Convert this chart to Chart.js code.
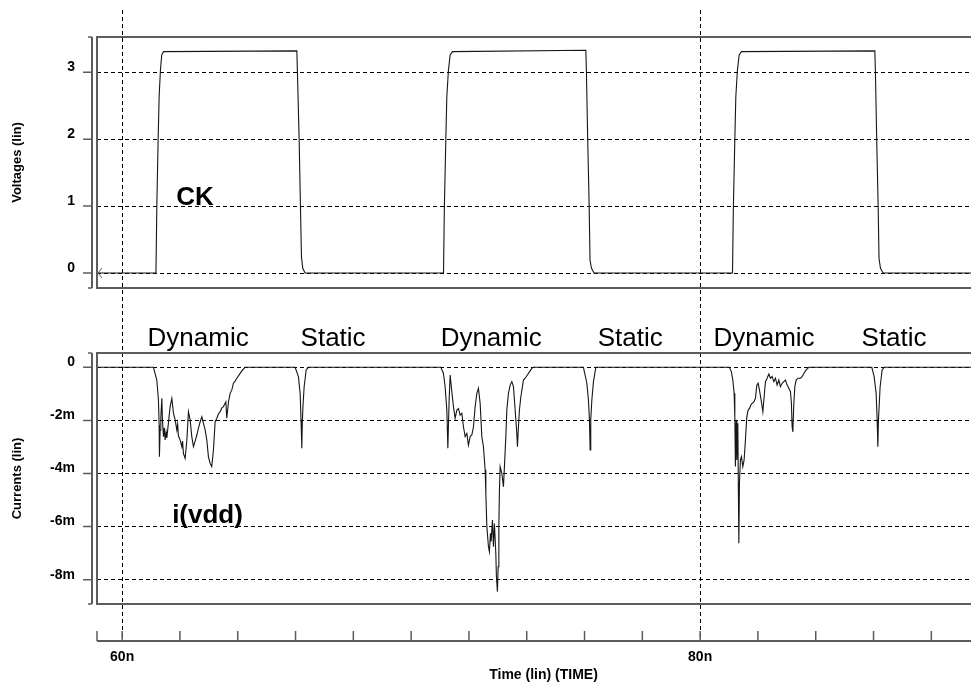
<!DOCTYPE html>
<html>
<head>
<meta charset="utf-8">
<title>CK / i(vdd) transient</title>
<script src="https://cdn.jsdelivr.net/npm/chart.js@4.4.1/dist/chart.umd.min.js"></script>
<style>
  html, body { margin: 0; padding: 0; background: #fff; overflow: hidden; }
  canvas { display: block; }
</style>
</head>
<body>
<canvas id="wave" width="990" height="684"></canvas>
<script>
// =======================================================
// Transient view: clock CK (top) and supply current i(vdd) (bottom)
// =======================================================

// time window (ns)
const X_MIN = 59.13;
const X_MAX = 90.03;
const timeLabelTicks = [60, 80];

// voltage panel (V)
const V_MIN = -0.224;
const V_MAX = 3.528;
const voltLabelTicks = [0, 1, 2, 3];

// current panel (mA)
const I_MIN = -8.915;
const I_MAX = 0.539;
const currentLabelTicks = [0, -2, -4, -6, -8];

// CK waveform
const ckTimeNs = [
  59.13, 61.17, 61.20, 61.245, 61.28, 61.325, 61.37, 61.43,
  66.045, 66.066, 66.125, 66.17, 66.205, 66.25, 66.33,
  71.12, 71.15, 71.20, 71.235, 71.29, 71.35, 71.43,
  76.045, 76.066, 76.11, 76.16, 76.19, 76.24, 76.33,
  81.12, 81.15, 81.20, 81.235, 81.29, 81.35, 81.43,
  86.045, 86.066, 86.11, 86.16, 86.19, 86.24, 86.33,
  90.03,
];
const ckVolts = [
  0, 0, 0.99, 1.99, 2.64, 3.03, 3.26, 3.31,
  3.32, 2.99, 1.99, 1.0, 0.24, 0.07, 0,
  0, 0.99, 1.99, 2.64, 3.03, 3.26, 3.31,
  3.33, 2.99, 1.99, 1.0, 0.19, 0.07, 0,
  0, 0.99, 1.99, 2.64, 3.03, 3.26, 3.31,
  3.32, 2.99, 1.99, 1.0, 0.22, 0.07, 0,
  0,
];

// i(vdd) waveform, one block per switching event
const iDyn1Ns = [
  59.13, 61.083, 61.20, 61.256, 61.28, 61.29, 61.315, 61.339, 61.374, 61.394,
  61.43, 61.46, 61.488, 61.52, 61.547, 61.60, 61.66, 61.72, 61.745, 61.775,
  61.834, 61.893, 61.92, 61.948, 62.007, 62.066, 62.09, 62.12, 62.18, 62.24,
  62.294, 62.353, 62.41, 62.467, 62.526, 62.585, 62.64, 62.70, 62.758, 62.813,
  62.872, 62.93, 62.986, 63.045, 63.10, 63.16, 63.218, 63.277, 63.33, 63.39,
  63.45, 63.505, 63.588, 63.62, 63.68, 63.737, 63.796, 63.85, 63.91, 63.97,
  64.083, 64.17, 64.256,
];
const iDyn1mA = [
  0, 0, -0.48, -1.23, -2.17, -3.37, -2.36, -1.86, -1.17, -1.98,
  -2.61, -2.28, -2.74, -2.44, -2.66, -2.11, -1.48, -1.17, -1.42, -1.73,
  -1.98, -2.36, -2.14, -2.59, -2.74, -2.99, -2.78, -3.24, -3.43, -2.74,
  -1.67, -1.98, -2.61, -2.99, -2.78, -2.55, -2.29, -2.05, -1.86, -2.11,
  -2.36, -2.74, -3.37, -3.62, -3.74, -3.11, -2.05, -1.92, -1.76, -1.67,
  -1.53, -1.48, -1.30, -1.92, -1.30, -0.98, -0.85, -0.60, -0.52, -0.41,
  -0.23, -0.10, 0,
];
const iStat1Ns = [65.986, 66.10, 66.159, 66.19, 66.218, 66.235, 66.26, 66.298, 66.367, 66.446];
const iStat1mA = [0, -0.35, -0.98, -1.98, -3.05, -2.05, -1.40, -0.73, -0.10, 0];

const iDyn2Ns = [
  71.028, 71.118, 71.176, 71.235, 71.27, 71.315, 71.35, 71.408, 71.464, 71.522,
  71.581, 71.637, 71.696, 71.754, 71.81, 71.869, 71.927, 71.983, 72.042, 72.10,
  72.156, 72.215, 72.273, 72.329, 72.388, 72.446, 72.502, 72.561, 72.585, 72.62,
  72.675, 72.709, 72.744, 72.768, 72.813, 72.848, 72.882, 72.93, 72.951, 72.986,
  73.01, 73.035, 73.055, 73.08, 73.138, 73.194, 73.228, 73.277, 73.311, 73.367,
  73.426, 73.484, 73.54, 73.599, 73.657, 73.678, 73.713, 73.747, 73.796, 73.851,
  73.886, 73.945, 74.003, 74.059, 74.176, 74.232,
];
const iDyn2mA = [
  0, -0.23, -0.73, -1.61, -3.05, -1.23, -0.29, -0.92, -1.48, -1.92,
  -1.61, -1.55, -1.80, -1.73, -2.24, -2.61, -2.49, -2.93, -2.61, -2.55,
  -2.24, -1.48, -0.98, -0.79, -1.36, -2.61, -2.99, -3.87, -4.75, -6.00,
  -6.76, -6.95, -6.25, -6.56, -5.75, -6.76, -5.88, -7.00, -7.89, -8.45,
  -7.51, -6.00, -4.62, -3.74, -3.99, -4.50, -3.74, -2.61, -1.61, -0.98,
  -0.67, -0.54, -0.73, -1.61, -2.49, -2.99, -2.24, -1.61, -1.11, -0.73,
  -0.48, -0.41, -0.32, -0.23, -0.04, 0,
];
const iStat2Ns = [75.962, 76.08, 76.135, 76.17, 76.194, 76.215, 76.253, 76.308, 76.39];
const iStat2mA = [0, -0.60, -1.23, -1.98, -3.11, -1.98, -1.23, -0.55, 0];

const iDyn3Ns = [
  81.014, 81.083, 81.131, 81.176, 81.20, 81.221, 81.246, 81.27, 81.304, 81.339,
  81.36, 81.394, 81.429, 81.477, 81.522, 81.567, 81.616, 81.661, 81.706, 81.754,
  81.799, 81.858, 81.913, 81.962, 82.007, 82.052, 82.121, 82.17, 82.215, 82.26,
  82.318, 82.377, 82.433, 82.491, 82.55, 82.606, 82.664, 82.723, 82.778, 82.837,
  82.896, 82.952, 83.01, 83.069, 83.125, 83.159, 83.183, 83.208, 83.242, 83.277,
  83.322, 83.391, 83.47, 83.529, 83.588, 83.668, 83.761,
];
const iDyn3mA = [
  0, -0.17, -0.48, -0.98, -1.86, -3.74, -1.98, -3.49, -2.11, -6.63,
  -4.37, -3.49, -3.37, -3.74, -3.49, -2.74, -1.86, -1.61, -1.55, -1.42,
  -1.36, -1.30, -1.17, -0.67, -0.60, -0.85, -1.30, -1.67, -1.11, -0.54,
  -0.41, -0.25, -0.41, -0.35, -0.54, -0.41, -0.67, -0.48, -0.73, -0.60,
  -0.54, -0.48, -0.67, -0.79, -0.92, -1.36, -2.24, -2.43, -1.36, -0.73,
  -0.48, -0.41, -0.41, -0.35, -0.23, -0.10, 0,
];
const iStat3Ns = [85.941, 86.021, 86.09, 86.125, 86.149, 86.17, 86.228, 86.298, 86.367, 90.03];
const iStat3mA = [0, -0.35, -0.98, -1.98, -2.99, -1.98, -0.73, -0.10, 0, 0];

// phase captions between the panels
const phaseLabels = ['Dynamic', 'Static', 'Dynamic', 'Static', 'Dynamic', 'Static'];
const phaseCentersNs = [62.63, 67.30, 72.77, 77.58, 82.21, 86.71];

// =======================================
// build point lists
// =======================================

const ckPoints = ckTimeNs.map((t, i) => ({ x: t, y: ckVolts[i] }));

const iddBlocks = [
  [iDyn1Ns, iDyn1mA], [iStat1Ns, iStat1mA],
  [iDyn2Ns, iDyn2mA], [iStat2Ns, iStat2mA],
  [iDyn3Ns, iDyn3mA], [iStat3Ns, iStat3mA],
];
const iddPoints = [];
iddBlocks.forEach(([ts, vs]) => {
  ts.forEach((t, i) => iddPoints.push({ x: t, y: vs[i] }));
});

// =======================================
// styling helpers
// =======================================

const FONT = "'Liberation Sans', Arial, Helvetica, sans-serif";
const RULE = '#5c5c5c';
const GRID_DASH = [4, 3];

Chart.defaults.font.family = FONT;
Chart.defaults.color = '#000';

const gridColor = (list) => (c) => (c.tick && list.includes(c.tick.value) ? '#000' : 'rgba(0,0,0,0)');

// fixed gutter widths; drop the label overflow padding so the
// plot area keeps its full size
const fixWidth = (scale) => {
  scale.width = 97;
  scale.paddingTop = 0;
  scale.paddingBottom = 0;
};
const fixHeight = (scale) => {
  scale.height = 43;
  scale.paddingLeft = 0;
  scale.paddingRight = 0;
};

// invisible axes used only to space the stacked panels
function spacer(weight, stackWeight) {
  return {
    type: 'linear', position: 'left', display: false,
    stack: 'panels', stackWeight, weight, afterFit: fixWidth,
  };
}

// =======================================
// frames, rulers and captions
// =======================================

const panelDecor = {
  id: 'panelDecor',
  afterDatasetsDraw(chart) {
    const { ctx, chartArea, scales } = chart;
    const xs = scales.x;
    ctx.save();
    ctx.strokeStyle = RULE;

    ['yV', 'yI'].forEach((id) => {
      const s = scales[id];
      // box around the panel (right side runs off the page)
      ctx.lineWidth = 2;
      ctx.beginPath();
      ctx.moveTo(chartArea.right, s.top);
      ctx.lineTo(chartArea.left, s.top);
      ctx.lineTo(chartArea.left, s.bottom);
      ctx.lineTo(chartArea.right, s.bottom);
      ctx.stroke();

      // ruler with tick marks just left of the box
      const ax = chartArea.left - 5;
      ctx.beginPath();
      ctx.moveTo(ax, s.top);
      ctx.lineTo(ax, s.bottom);
      ctx.stroke();
      ctx.lineWidth = 1.5;
      ctx.beginPath();
      s.ticks.forEach((t) => {
        const y = s.getPixelForValue(t.value);
        const len = t.label ? 9 : 4;
        ctx.moveTo(ax - len, y);
        ctx.lineTo(ax, y);
      });
      ctx.moveTo(ax - 4, s.top); ctx.lineTo(ax, s.top);
      ctx.moveTo(ax - 4, s.bottom); ctx.lineTo(ax, s.bottom);
      ctx.stroke();
    });

    // time ruler, ticks pointing up
    const y0 = xs.top;
    ctx.lineWidth = 2;
    ctx.beginPath();
    ctx.moveTo(chartArea.left, y0);
    ctx.lineTo(chartArea.right, y0);
    ctx.stroke();
    ctx.lineWidth = 1.5;
    ctx.beginPath();
    ctx.moveTo(chartArea.left, y0);
    ctx.lineTo(chartArea.left, y0 - 10);
    xs.ticks.forEach((t) => {
      const x = xs.getPixelForValue(t.value);
      ctx.moveTo(x, y0);
      ctx.lineTo(x, y0 - 10);
    });
    ctx.stroke();

    // continuation arrow at the start of CK
    const first = chart.getDatasetMeta(0).data[0];
    ctx.lineWidth = 1;
    ctx.beginPath();
    ctx.moveTo(first.x + 5, first.y - 5);
    ctx.lineTo(first.x + 1, first.y);
    ctx.lineTo(first.x + 5, first.y + 5);
    ctx.stroke();
    ctx.restore();
  },
  afterDraw(chart) {
    const { ctx, scales } = chart;
    const xs = scales.x;
    ctx.save();
    ctx.fillStyle = '#000';
    ctx.textBaseline = 'alphabetic';

    // trace names
    ctx.font = `bold 26px ${FONT}`;
    ctx.textAlign = 'left';
    ctx.fillText('CK', xs.getPixelForValue(61.87), scales.yV.getPixelForValue(1.02));
    ctx.fillText('i(vdd)', xs.getPixelForValue(61.73), scales.yI.getPixelForValue(-5.85));

    // dynamic / static captions
    ctx.font = `26px ${FONT}`;
    ctx.textAlign = 'center';
    phaseLabels.forEach((txt, i) => {
      ctx.fillText(txt, xs.getPixelForValue(phaseCentersNs[i]), scales.yI.top - 7);
    });
    ctx.restore();
  },
};

// =======================================
// chart
// =======================================

new Chart(document.getElementById('wave'), {
  type: 'line',
  data: {
    datasets: [
      {
        label: 'CK',
        data: ckPoints,
        yAxisID: 'yV',
        borderColor: '#161616',
        borderWidth: 1.1,
        pointRadius: 0,
        tension: 0,
      },
      {
        label: 'i(vdd)',
        data: iddPoints,
        yAxisID: 'yI',
        borderColor: '#161616',
        borderWidth: 1.1,
        pointRadius: 0,
        tension: 0,
      },
    ],
  },
  options: {
    responsive: false,
    devicePixelRatio: 1,
    animation: false,
    events: [],
    layout: { padding: { top: 10, left: 0, right: 0, bottom: 0 } },
    plugins: {
      legend: { display: false },
      tooltip: { enabled: false },
    },
    scales: {
      x: {
        type: 'linear',
        position: 'bottom',
        min: X_MIN,
        max: X_MAX,
        afterFit: fixHeight,
        border: { display: false, dash: [4, 3] },
        grid: { color: gridColor(timeLabelTicks), lineWidth: 1, drawTicks: false },
        ticks: {
          stepSize: 2,
          maxTicksLimit: 100,
          includeBounds: false,
          autoSkip: false,
          maxRotation: 0,
          padding: 8,
          font: { size: 14, weight: 'bold' },
          callback: (v) => (timeLabelTicks.includes(v) ? v + 'n' : ''),
        },
        title: {
          display: true,
          text: 'Time (lin) (TIME)',
          font: { size: 14, weight: 'bold' },
          padding: { top: 0, bottom: 0 },
        },
      },
      topPad: spacer(5, 27),
      yV: {
        type: 'linear',
        position: 'left',
        stack: 'panels',
        stackWeight: 251,
        weight: 4,
        min: V_MIN,
        max: V_MAX,
        afterFit: fixWidth,
        border: { display: false, dash: GRID_DASH },
        grid: { color: gridColor(voltLabelTicks), lineWidth: 1, drawTicks: false },
        ticks: {
          stepSize: 0.5,
          includeBounds: false,
          padding: 22,
          labelOffset: -5,
          font: { size: 14, weight: 'bold' },
          callback: (v) => (voltLabelTicks.includes(v) ? String(v) : ''),
        },
        title: {
          display: true,
          text: 'Voltages (lin)',
          font: { size: 13, weight: 'bold' },
          padding: { top: 10, bottom: 0 },
        },
      },
      midGap: spacer(3, 65),
      yI: {
        type: 'linear',
        position: 'left',
        stack: 'panels',
        stackWeight: 251,
        weight: 2,
        min: I_MIN,
        max: I_MAX,
        afterFit: fixWidth,
        border: { display: false, dash: GRID_DASH },
        grid: { color: gridColor(currentLabelTicks), lineWidth: 1, drawTicks: false },
        ticks: {
          stepSize: 1,
          includeBounds: false,
          padding: 22,
          labelOffset: -5,
          font: { size: 14, weight: 'bold' },
          callback: (v) => (currentLabelTicks.includes(v) ? (v === 0 ? '0' : v + 'm') : ''),
        },
        title: {
          display: true,
          text: 'Currents (lin)',
          font: { size: 13, weight: 'bold' },
          padding: { top: 10, bottom: 0 },
        },
      },
      bottomPad: spacer(1, 37),
    },
  },
  plugins: [panelDecor],
});
</script>
</body>
</html>
